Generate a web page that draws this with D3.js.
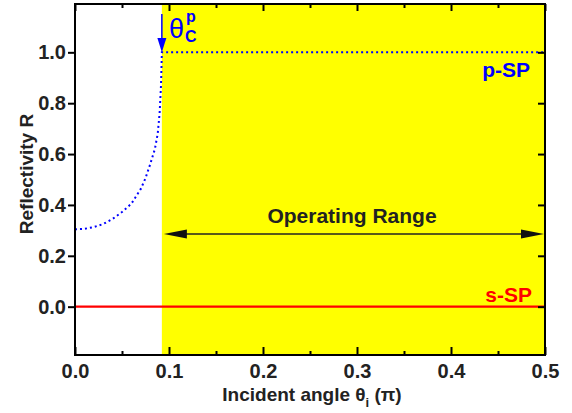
<!DOCTYPE html>
<html>
<head>
<meta charset="utf-8">
<script src="https://cdn.jsdelivr.net/npm/d3@7"></script>
<style>
  body { margin: 0; background: #fff; }
  svg { display: block; font-family: "Liberation Sans", Arial, sans-serif; }
</style>
</head>
<body>
<svg width="572" height="413"></svg>
<script>
// p-SP reflectivity (angle in units of pi)
const pAngle = [0, 0.01, 0.02, 0.03, 0.04, 0.05, 0.06, 0.07, 0.075, 0.08, 0.085, 0.088, 0.09, 0.0915, 0.0924, 0.5];
const pR     = [0.304, 0.306, 0.313, 0.325, 0.345, 0.372, 0.405, 0.463, 0.505, 0.56, 0.62, 0.68, 0.76, 0.87, 1.0, 1.0];
// s-SP reflectivity
const sAngle = [0, 0.5];
const sR     = [0, 0];
const thetaC = 0.0924;        // critical angle, start of operating range
const rangeArrowR = 0.286;    // height of the "Operating Range" arrow
const xTicks = [0, 0.1, 0.2, 0.3, 0.4, 0.5];
const xMinor = [0.05, 0.15, 0.25, 0.35, 0.45];
const yTicks = [0, 0.2, 0.4, 0.6, 0.8, 1.0];

function drawTheGraph() {
  const svg = d3.select("svg"),
        left = 75, right = 545, top = 4, bottom = 355;

  const x = d3.scaleLinear().domain([0, 0.5]).range([left, right]);
  const y = d3.scaleLinear().domain([-0.19, 1.19]).range([bottom, top]);

  // operating range shading
  svg.append("rect")
     .attr("x", x(thetaC))
     .attr("y", top)
     .attr("width", x(0.5) - x(thetaC))
     .attr("height", bottom - top)
     .attr("fill", "#ffff00");

  const line = d3.line().x(d => x(d[0])).y(d => y(d[1]));

  // s-SP
  svg.append("path")
     .datum(d3.zip(sAngle, sR))
     .attr("d", line)
     .attr("fill", "none")
     .attr("stroke", "#ff0000")
     .attr("stroke-width", 2.2);

  // p-SP
  svg.append("path")
     .datum(d3.zip(pAngle, pR))
     .attr("d", line)
     .attr("fill", "none")
     .attr("stroke", "#0000ff")
     .attr("stroke-width", 2)
     .attr("stroke-dasharray", "2 3");

  // axes
  const fmt = d3.format(".1f");
  const styleAxis = g => {
    g.select(".domain").remove();
    g.selectAll(".tick line").attr("stroke", "#000").attr("stroke-width", 2);
    g.selectAll("text")
     .attr("fill", "#222")
     .style("font-size", "20px")
     .style("font-weight", "bold")
     .style("font-family", "'Liberation Sans', Arial, sans-serif");
  };

  svg.append("g")
     .attr("transform", `translate(0,${bottom})`)
     .call(d3.axisBottom(x).tickValues(xTicks).tickSize(-8).tickPadding(9).tickFormat(fmt))
     .call(styleAxis);
  svg.append("g")
     .attr("transform", `translate(0,${bottom})`)
     .call(d3.axisBottom(x).tickValues(xMinor).tickSize(-4).tickFormat(""))
     .call(styleAxis);
  svg.append("g")
     .attr("transform", `translate(0,${top})`)
     .call(d3.axisTop(x).tickValues(xTicks).tickSize(-7).tickFormat(""))
     .call(styleAxis);
  svg.append("g")
     .attr("transform", `translate(0,${top})`)
     .call(d3.axisTop(x).tickValues(xMinor).tickSize(-4).tickFormat(""))
     .call(styleAxis);
  svg.append("g")
     .attr("transform", `translate(${left},0)`)
     .call(d3.axisLeft(y).tickValues(yTicks).tickSize(7).tickPadding(2).tickFormat(fmt))
     .call(styleAxis);
  svg.append("g")
     .attr("transform", `translate(${right},0)`)
     .call(d3.axisRight(y).tickValues(yTicks).tickSize(-7).tickFormat(""))
     .call(styleAxis);

  // frame
  svg.append("rect")
     .attr("x", left).attr("y", top)
     .attr("width", right - left).attr("height", bottom - top)
     .attr("fill", "none")
     .attr("stroke", "#000")
     .attr("stroke-width", 2);

  // axis titles
  const xt = svg.append("text")
     .attr("x", (left + right) / 2 + 2)
     .attr("y", 401)
     .attr("text-anchor", "middle")
     .attr("fill", "#222")
     .style("font-size", "19px")
     .style("font-weight", "bold");
  xt.append("tspan").text("Incident angle θ");
  xt.append("tspan").attr("dy", 6).style("font-size", "13px").text("i");
  xt.append("tspan").attr("dy", -6).text(" (π)");

  svg.append("text")
     .attr("transform", "rotate(-90)")
     .attr("x", -174)
     .attr("y", 33)
     .attr("text-anchor", "middle")
     .attr("fill", "#222")
     .style("font-size", "19px")
     .style("font-weight", "bold")
     .text("Reflectivity R");

  // operating range arrow
  const ay = y(rangeArrowR), ax0 = x(thetaC) + 2, ax1 = x(0.5) - 1;
  svg.append("line")
     .attr("x1", ax0 + 10).attr("x2", ax1 - 10)
     .attr("y1", ay).attr("y2", ay)
     .attr("stroke", "#222").attr("stroke-width", 1.5);
  svg.append("path")
     .attr("d", `M${ax0},${ay}L${ax0 + 23},${ay - 4.5}L${ax0 + 23},${ay + 4.5}Z`)
     .attr("fill", "#111");
  svg.append("path")
     .attr("d", `M${ax1},${ay}L${ax1 - 23},${ay - 4.5}L${ax1 - 23},${ay + 4.5}Z`)
     .attr("fill", "#111");
  svg.append("text")
     .attr("x", 352).attr("y", 223)
     .attr("text-anchor", "middle")
     .attr("fill", "#222")
     .style("font-size", "21px")
     .style("font-weight", "bold")
     .text("Operating Range");

  // series labels
  svg.append("text")
     .attr("x", 530).attr("y", 77)
     .attr("text-anchor", "end")
     .attr("fill", "#0000ff")
     .style("font-size", "21px")
     .style("font-weight", "bold")
     .text("p-SP");
  svg.append("text")
     .attr("x", 532).attr("y", 302)
     .attr("text-anchor", "end")
     .attr("fill", "#ff0000")
     .style("font-size", "21px")
     .style("font-weight", "bold")
     .text("s-SP");

  // critical angle marker
  const cx = x(thetaC);
  svg.append("line")
     .attr("x1", cx).attr("x2", cx)
     .attr("y1", 14).attr("y2", 40)
     .attr("stroke", "#0000ff").attr("stroke-width", 1.5);
  svg.append("path")
     .attr("d", `M${cx - 4.5},38L${cx + 4.5},38L${cx},${y(1.0)}Z`)
     .attr("fill", "#0000ff");
  svg.append("text")
     .attr("x", 169).attr("y", 38)
     .attr("fill", "#0000ff")
     .style("font-size", "27px")
     .text("θ");
  svg.append("text")
     .attr("x", 185).attr("y", 42)
     .attr("fill", "#0000ff")
     .style("font-size", "16px")
     .style("font-weight", "bold")
     .text("C");
  svg.append("text")
     .attr("x", 186).attr("y", 22)
     .attr("fill", "#0000ff")
     .style("font-size", "16px")
     .style("font-weight", "bold")
     .text("p");
}
drawTheGraph();
</script>
</body>
</html>
